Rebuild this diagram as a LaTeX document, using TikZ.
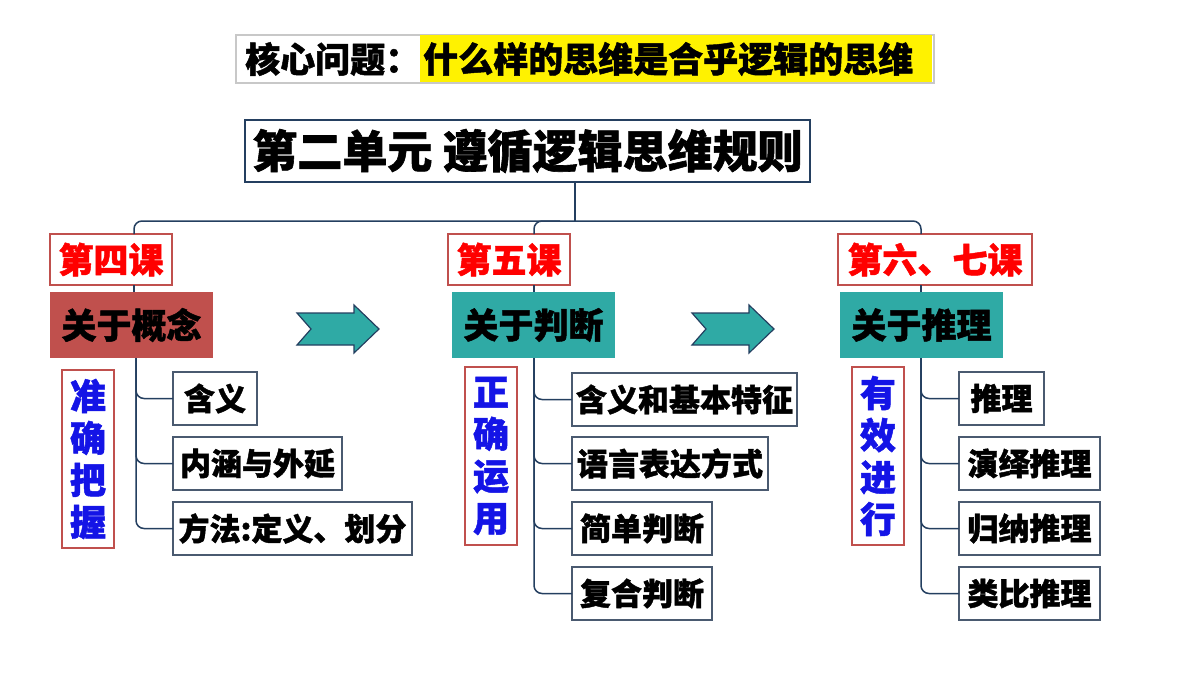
\documentclass[tikz,border=0pt]{standalone}
\usepackage{fontspec}
\setmainfont{Noto Sans CJK SC}[BoldFeatures={FakeBold=1.3}]
\definecolor{navy}{HTML}{243F60}
\definecolor{tealf}{HTML}{2FAAA5}
\definecolor{brick}{HTML}{C0504D}
\definecolor{boxgray}{HTML}{4A5A70}
\definecolor{vblue}{HTML}{1414E6}
\definecolor{lgray}{HTML}{C8C8C8}
\tikzset{
  box/.style={anchor=north west, inner sep=0pt, outer sep=0pt, align=center},
  lesson/.style={box, draw=brick, line width=1.5pt, text=red, font=\fontsize{35}{35}\selectfont\bfseries, minimum height=51pt},
  topic/.style={box, text=black, font=\fontsize{35}{35}\selectfont\bfseries, minimum width=163pt, minimum height=66pt},
  item/.style={box, draw=boxgray, line width=1.2pt, text=black, font=\fontsize{31}{31}\selectfont\bfseries, minimum height=53pt},
  vert/.style={box, draw=brick, line width=1.5pt, text=vblue, font=\fontsize{36}{42}\selectfont\bfseries, minimum width=52pt, minimum height=178pt},
  tree/.style={draw=navy, line width=1.5pt, rounded corners=8pt},
  bigarrow/.style={fill=tealf, draw=navy, line width=1.2pt, line join=miter},
}
\begin{document}
\begin{tikzpicture}[x=1pt, y=-1pt]
\useasboundingbox (0,0) rectangle (1200,675);
% top question
\node[box, draw=lgray, line width=1.2pt, minimum width=698pt, minimum height=48pt] (qbox) at (236,35) {};
\node[box, fill=yellow, minimum width=512pt, minimum height=47pt] (hl) at (420,35) {};
\node[anchor=west, inner sep=0pt, font=\fontsize{35}{35}\selectfont\bfseries] (q1) at (245,59) {核心问题：};
\node[anchor=west, inner sep=0pt, font=\fontsize{35}{35}\selectfont\bfseries] (q2) at (423,59) {什么样的思维是合乎逻辑的思维};
% main title
\node[box, draw=navy, line width=2pt, minimum width=565pt, minimum height=62pt, font=\fontsize{45}{45}\selectfont\bfseries] (title) at (245,120) {第二单元 遵循逻辑思维规则};
% lessons
\node[lesson, minimum width=122pt] (l4) at (50,234) {第四课};
\node[lesson, minimum width=122pt] (l5) at (448,234) {第五课};
\node[lesson, minimum width=194pt] (l67) at (838,234) {第六、七课};
% topics
\node[topic, fill=brick] (t4) at (50,292) {关于概念};
\node[topic, fill=tealf] (t5) at (452,292) {关于判断};
\node[topic, fill=tealf] (t67) at (840,292) {关于推理};
% vertical labels
\node[vert] (v4) at (62,370) {准\\确\\把\\握};
\node[vert] (v5) at (465,367) {正\\确\\运\\用};
\node[vert] (v67) at (852,367) {有\\效\\进\\行};
% items lesson 4
\node[item, minimum width=84pt] (a1) at (173,372) {含义};
\node[item, minimum width=169pt] (a2) at (173,437) {内涵与外延};
\node[item, minimum width=239pt] (a3) at (173,502) {方法:定义、划分};
% items lesson 5
\node[item, minimum width=225pt] (b1) at (572,373) {含义和基本特征};
\node[item, minimum width=196pt] (b2) at (572,437) {语言表达方式};
\node[item, minimum width=140pt] (b3) at (572,502) {简单判断};
\node[item, minimum width=140pt] (b4) at (572,567) {复合判断};
% items lessons 6-7
\node[item, minimum width=85pt] (c1) at (959,372) {推理};
\node[item, minimum width=141pt] (c2) at (959,437) {演绎推理};
\node[item, minimum width=141pt] (c3) at (959,502) {归纳推理};
\node[item, minimum width=141pt] (c4) at (959,567) {类比推理};
% top connectors
\coordinate (hy) at (575,221);
\draw[tree] (title.south -| hy) -- (hy);
\draw[tree] (l4.north -| 134,0) |- (hy) -| (l67.north -| 921,0);
\draw[tree] (l5.north -| 534,0) |- (560,221);
\draw[tree] (l4.south -| 134,0) -- (t4.north -| 134,0);
\draw[tree] (l5.south -| 534,0) -- (t5.north -| 534,0);
\draw[tree] (l67.south -| 921,0) -- (t67.north -| 921,0);
% branch connectors
\foreach \n in {a1,a2,a3} \draw[tree] (t4.south -| 136,0) |- (\n.west);
\foreach \n in {b1,b2,b3,b4} \draw[tree] (t5.south -| 534,0) |- (\n.west);
\foreach \n in {c1,c2,c3,c4} \draw[tree] (t67.south -| 921,0) |- (\n.west);
% block arrows
\foreach \dx in {0,395}
  \draw[bigarrow, shift={(\dx,0)}] (297,313) -- (354,313) -- (354,305) -- (379,329) -- (354,353) -- (354,345) -- (297,345) -- (311,329) -- cycle;
\end{tikzpicture}
\end{document}
